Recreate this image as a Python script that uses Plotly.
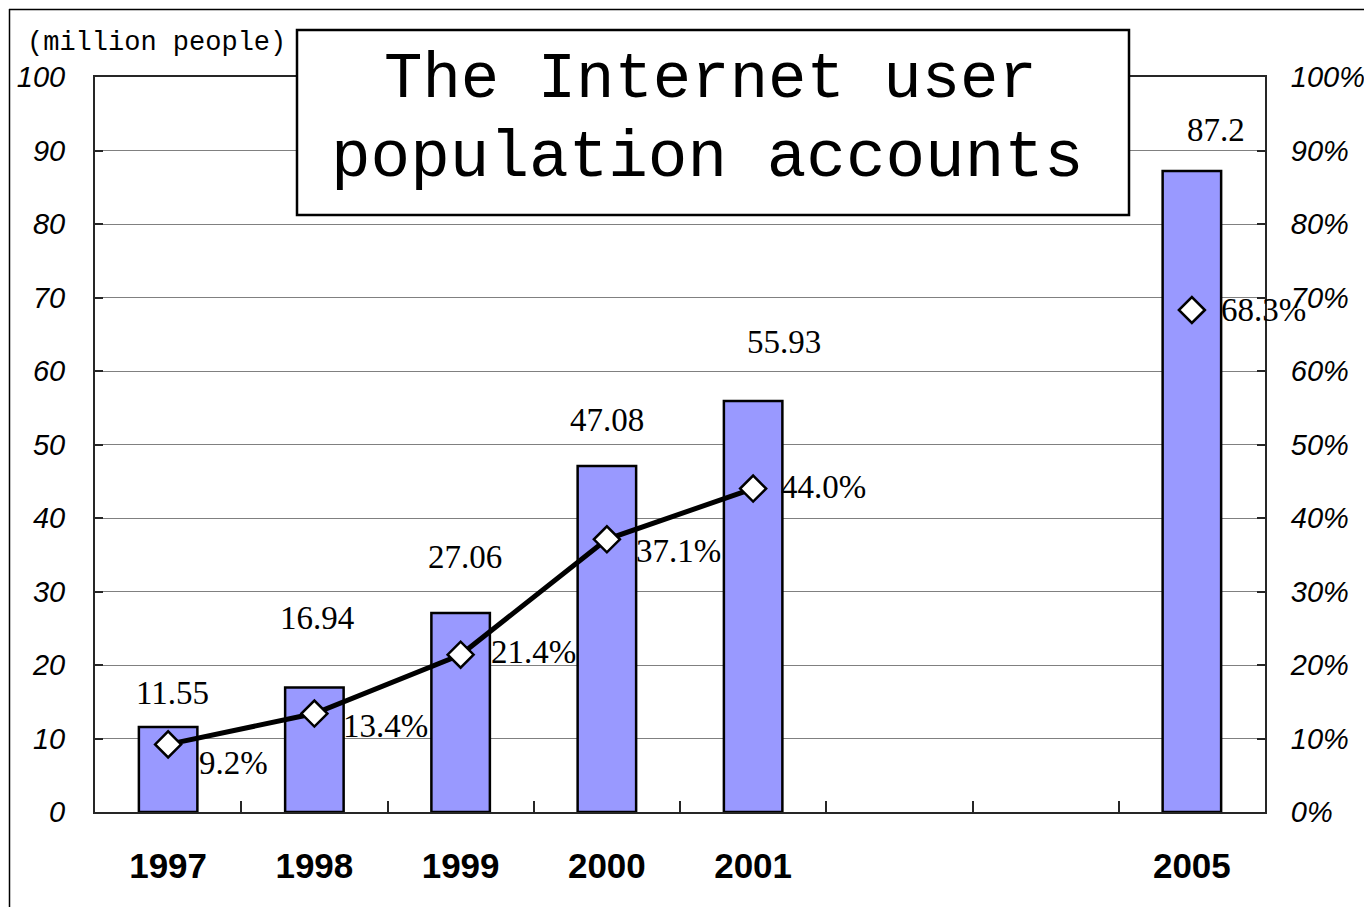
import plotly.graph_objects as go

# ---- data ----
categories = ["1997", "1998", "1999", "2000", "2001", " ", "  ", "2005"]
users_million = [11.55, 16.94, 27.06, 47.08, 55.93, None, None, 87.2]
user_share_pct = [9.2, 13.4, 21.4, 37.1, 44.0, None, None, 68.3]
user_labels = ["11.55", "16.94", "27.06", "47.08", "55.93", None, None, "87.2"]
share_labels = ["9.2%", "13.4%", "21.4%", "37.1%", "44.0%", None, None, "68.3%"]
y_ticks = [0, 10, 20, 30, 40, 50, 60, 70, 80, 90, 100]
y_tick_labels = ["0", "10", "20", "30", "40", "50", "60", "70", "80", "90", "100"]
y2_tick_labels = ["0%", "10%", "20%", "30%", "40%", "50%", "60%", "70%",
                  "80%", "90%", "100%"]

# ---- label placement (pixel offsets, style only) ----
bar_label_dx = [4, 3, 4, 0, 31, 0, 0, 24]
bar_label_dy = [34, 69, 56, 46, 59, 0, 0, 41]
pct_label_dx = [29, 27, 28, 27, 26, 0, 0, 27]
pct_label_dy = [-19, -12, 3, -12, 2, 0, 0, 0]

# page body has an 8px margin, so the figure is drawn 8px in from the corner
PAGE_OFF = 8
W, H = 1372 - 2 * PAGE_OFF, 915 - 2 * PAGE_OFF
# plot area in absolute screen pixels
PX0, PX1, PY0, PY1 = 95, 1265, 77, 812
L, T = PX0 - PAGE_OFF, PY0 - PAGE_OFF
R, B = W - (PX1 - PAGE_OFF), H - (PY1 - PAGE_OFF)
PW, PH = PX1 - PX0, PY1 - PY0


def px(xp):
    return (xp - PX0) / PW


def py(yp):
    return (PY1 - yp) / PH


fig = go.Figure()

fig.add_trace(go.Bar(
    x=categories, y=users_million, width=0.4,
    marker=dict(color="#9999FF", line=dict(color="#000000", width=2.5)),
    hoverinfo="skip", showlegend=False,
))

fig.add_trace(go.Scatter(
    x=categories, y=user_share_pct, yaxis="y2", mode="lines+markers",
    connectgaps=False,
    line=dict(color="#000000", width=5),
    marker=dict(symbol="diamond", size=20, color="#FFFFFF",
                line=dict(color="#000000", width=2.5)),
    hoverinfo="skip", showlegend=False,
))

annotations = []
for i, c in enumerate(categories):
    if users_million[i] is not None:
        annotations.append(dict(
            x=i, y=users_million[i], xref="x", yref="y",
            text=user_labels[i], showarrow=False,
            xanchor="center", yanchor="middle",
            xshift=bar_label_dx[i], yshift=bar_label_dy[i],
            font=dict(family="Liberation Serif", size=33, color="#000000"),
        ))
    if user_share_pct[i] is not None:
        annotations.append(dict(
            x=i, y=user_share_pct[i], xref="x", yref="y2",
            text=share_labels[i], showarrow=False,
            xanchor="left", yanchor="middle",
            xshift=pct_label_dx[i], yshift=pct_label_dy[i],
            font=dict(family="Liberation Serif", size=33, color="#000000"),
        ))

# title inside box
annotations.append(dict(
    x=px(710), y=py(80), xref="paper", yref="paper",
    text="The Internet user", showarrow=False,
    xanchor="center", yanchor="middle",
    font=dict(family="Liberation Mono", size=64, color="#000000"),
))
annotations.append(dict(
    x=px(707), y=py(158), xref="paper", yref="paper",
    text="population accounts", showarrow=False,
    xanchor="center", yanchor="middle",
    font=dict(family="Liberation Mono", size=66, color="#000000"),
))
annotations.append(dict(
    x=px(25), y=py(43), xref="paper", yref="paper",
    text="(million people)", showarrow=False,
    xanchor="left", yanchor="middle",
    font=dict(family="Liberation Mono", size=27, color="#000000"),
))

shapes = [
    # title box
    dict(type="rect", xref="paper", yref="paper",
         x0=px(297), x1=px(1129), y0=py(215), y1=py(30),
         fillcolor="#FFFFFF", line=dict(color="#000000", width=2.5),
         layer="above"),
    # outer chart border (top and left)
    dict(type="line", xref="paper", yref="paper",
         x0=px(9), x1=px(1380), y0=py(9.5), y1=py(9.5),
         line=dict(color="#000000", width=1.5)),
    dict(type="line", xref="paper", yref="paper",
         x0=px(9.5), x1=px(9.5), y0=py(9), y1=py(930),
         line=dict(color="#000000", width=1.5)),
]

tick_font_italic = dict(family="Liberation Sans", size=29, color="#000000",
                        style="italic")

fig.update_layout(
    width=W, height=H, autosize=False,
    margin=dict(l=L, r=R, t=T, b=B, pad=0),
    paper_bgcolor="#FFFFFF", plot_bgcolor="#FFFFFF",
    showlegend=False,
    annotations=annotations, shapes=shapes,
    xaxis=dict(
        type="category", categoryorder="array", categoryarray=categories,
        range=[-0.5, len(categories) - 0.5], autorange=False,
        tickson="boundaries", ticks="inside", ticklen=11, tickwidth=1.5,
        tickcolor="#262626", automargin=False, tickangle=0,
        showline=True, linecolor="#262626", linewidth=2, mirror=True,
        showgrid=False, zeroline=False,
        tickfont=dict(family="Liberation Sans", size=35, color="#000000",
                      weight="bold"),
        ticklabelstandoff=22,
    ),
    yaxis=dict(
        range=[0, 100], autorange=False, tickvals=y_ticks,
        ticktext=y_tick_labels, ticks="inside", ticklen=8,
        tickcolor="#262626", tickwidth=1.5, automargin=False,
        showline=True, linecolor="#262626", linewidth=2,
        showgrid=True, gridcolor="#808080", gridwidth=1,
        zeroline=False, tickfont=tick_font_italic,
        ticklabelstandoff=22,
    ),
    yaxis2=dict(
        range=[0, 100], autorange=False, tickvals=y_ticks,
        ticktext=y2_tick_labels, overlaying="y",
        side="right", ticks="inside", ticklen=8, automargin=False,
        tickcolor="#262626", tickwidth=1.5,
        showline=True, linecolor="#262626", linewidth=2,
        showgrid=False, zeroline=False, tickfont=tick_font_italic,
        ticklabelstandoff=18,
    ),
)

fig.write_html("out.html")
